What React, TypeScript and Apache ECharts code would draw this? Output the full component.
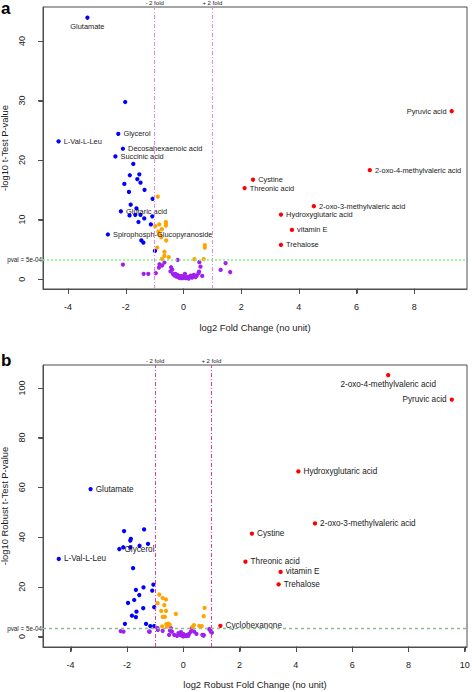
import React, { useEffect, useRef } from 'react';
import * as echarts from 'echarts';

const FONT = '"Liberation Sans", Arial, Helvetica, sans-serif';

// ---------- Panel a data: [log2 fold change, -log10 p, label] ----------
const aBlue: [number, number, string?][] = [
  [-3.33, 43.9, 'Glutamate'], [-2.02, 29.75], [-2.26, 24.4, 'Glycerol'], [-4.33, 23.15, 'L-Val-L-Leu'],
  [-2.10, 21.9, 'Decosahexaenoic acid'], [-2.36, 20.6, 'Succinic acid'], [-1.74, 19.35], [-1.86, 17.45],
  [-1.53, 17.6], [-1.60, 16.8], [-1.49, 16.2], [-2.05, 16.0], [-1.35, 15.0], [-1.89, 14.65], [-1.07, 13.5],
  [-1.83, 12.5], [-1.63, 11.9], [-2.17, 11.4, 'Glutaric acid'], [-1.87, 10.7], [-1.67, 10.8], [-1.49, 10.8],
  [-1.08, 10.55], [-1.36, 10.2], [-1.56, 9.6], [-1.13, 9.2], [-2.62, 7.5, 'Spirophosph-Glucopyranoside'],
  [-1.46, 6.5], [-1.39, 6.15], [-0.99, 4.75],
];
const aOrange: [number, number][] = [
  [-0.89, 13.86], [-0.98, 8.9], [-0.84, 9.2], [-0.61, 9.6], [-0.61, 9.3], [-0.61, 9.0], [-0.75, 8.4],
  [-0.87, 8.0], [-0.82, 7.43], [-0.77, 7.05], [-0.60, 6.5], [-0.91, 5.3], [-0.66, 4.6], [-0.66, 3.9],
  [-0.74, 3.4], [-0.51, 3.7], [0.38, 3.35], [0.70, 3.35], [0.74, 5.3], [0.74, 5.7],
];
const aPurple: [number, number][] = [
  [-2.10, 2.45], [-1.38, 0.9], [-1.22, 0.9], [-0.96, 1.0], [-0.85, 1.95], [-0.83, 2.5], [-0.74, 2.3],
  [-0.66, 2.8], [-0.43, 2.0], [-0.39, 1.6], [-0.20, 3.24], [0.55, 2.85], [1.29, 1.56], [1.46, 2.7],
  [1.62, 1.2], [-0.36, 0.84], [-0.31, 0.6], [-0.24, 0.44], [-0.16, 0.27], [-0.10, 0.17], [-0.03, 0.17],
  [0.01, 0.27], [0.08, 0.17], [0.13, 0.39], [0.21, 0.39], [0.30, 0.27], [0.36, 0.72], [0.46, 0.6],
  [0.54, 1.28], [0.59, 2.1], [0.65, 0.55], [-0.45, 1.3], [-0.20, 0.7], [-0.05, 0.5], [0.05, 0.9],
  [0.18, 0.1], [0.25, 0.6], [0.42, 0.35], [-0.28, 0.9], [0.52, 1.0], [-0.12, 0.5],
];
const aRed: [number, number, string?][] = [
  [9.30, 28.2, 'Pyruvic acid'], [6.46, 18.3, '2-oxo-4-methylvaleric acid'], [2.41, 16.7, 'Cystine'],
  [2.12, 15.3, 'Threonic acid'], [4.52, 12.25, '2-oxo-3-methylvaleric acid'],
  [3.38, 10.85, 'Hydroxyglutaric acid'], [3.76, 8.27, 'vitamin E'], [3.38, 5.75, 'Trehalose'],
];
const aLeftLabels = ['Pyruvic acid'];
const aBelowLabels = ['Glutamate'];

// ---------- Panel b data ----------
const bBlue: [number, number, string?][] = [
  [-3.29, 59.3, 'Glutamate'], [-4.42, 31.2, 'L-Val-L-Leu'], [-2.27, 35.2, 'Glycerol'], [-2.10, 42.4],
  [-1.39, 43.1], [-1.88, 38.6], [-1.86, 39.3], [-1.55, 36.5], [-1.25, 37.3], [-2.13, 35.9], [-1.88, 35.9],
  [-1.78, 27.5], [-1.06, 20.9], [-1.41, 19.8], [-1.10, 18.5], [-1.68, 18.8], [-1.56, 16.7], [-1.74, 14.7],
  [-1.96, 13.5], [-1.42, 11.4], [-1.03, 11.8], [-1.66, 10.0], [-1.82, 8.4], [-1.68, 7.8], [-2.07, 5.1],
  [-1.32, 5.1], [-1.17, 4.2], [-1.03, 4.2],
];
const bOrange: [number, number][] = [
  [-0.85, 16.9], [-0.73, 15.5], [-0.61, 14.9], [-0.91, 13.4], [-0.67, 12.6], [-0.78, 10.3], [-0.61, 10.3],
  [-0.73, 7.9], [-0.65, 7.9], [-0.26, 9.1], [-0.60, 5.0], [-0.53, 5.2], [-0.48, 4.8], [-0.58, 4.0],
  [-0.75, 4.1], [0.76, 11.5], [0.73, 8.2], [0.38, 4.6], [0.33, 3.9], [0.57, 4.3], [0.66, 4.2],
];
const bPurple: [number, number][] = [
  [-2.22, 2.2], [-2.12, 2.0], [-1.19, 2.0], [-0.90, 2.7], [0.73, 0.6], [0.96, 2.7], [1.02, 1.6], [0.72, 0.4],
  [-0.44, 3.4], [-0.47, 2.4], [-0.40, 2.0], [-0.50, 0.7], [-0.32, 0.7], [-0.17, 1.4], [-0.12, 0.7],
  [-0.05, 0.4], [0.01, 1.0], [0.07, 0.4], [0.14, 0.7], [0.21, 1.1], [0.27, 2.0], [0.31, 3.4], [0.39, 2.0],
  [0.47, 1.1], [0.68, 0.7], [0.92, 3.0], [0.98, 2.0], [-1.21, 2.0], [-0.91, 3.4], [-0.73, 2.3],
  [-0.22, 0.3], [0.0, 0.1], [0.1, 0.2], [-0.08, 1.8], [0.18, 0.3],
];
const bRed: [number, number, string?][] = [
  [7.28, 105.1, '2-oxo-4-methylvaleric acid'], [9.54, 95.3, 'Pyruvic acid'],
  [4.09, 66.4, 'Hydroxyglutaric acid'], [4.68, 45.5, '2-oxo-3-methylvaleric acid'], [2.44, 41.4, 'Cystine'],
  [2.21, 30.1, 'Threonic acid'], [3.46, 26.0, 'vitamin E'], [3.39, 21.0, 'Trehalose'],
  [1.32, 4.3, 'Cyclohexanone'],
];
const bLeftLabels = ['Pyruvic acid'];
const bBelowLabels = ['2-oxo-4-methylvaleric acid'];

// ---------- axes ----------
const aXTicks = [-4, -2, 0, 2, 4, 6, 8];
const aYTicks = [0, 10, 20, 30, 40];
const bXTicks = [-4, -2, 0, 2, 4, 6, 8, 10];
const bYTicks = [0, 20, 40, 60, 80, 100];
const aXRange = [-4.87, 9.83];
const aYRange = [-1.65, 45.7];
const bXRange = [-4.98, 10.08];
const bYRange = [-4.2, 109.2];
const foldCut = 1; // log2(2)
const pvalCut = 5e-4;

const BLUE = '#0000ff';
const ORANGE = '#ffa500';
const PURPLE = '#a020f0';
const RED = '#ff0000';
const AXIS = '#4d4d4d';

function pointSeries(
  data: [number, number, string?][],
  color: string,
  idx: number,
  fs: number,
  left: string[],
  below: string[],
  extra: any = {}
) {
  return {
    type: 'scatter',
    xAxisIndex: idx,
    yAxisIndex: idx,
    symbolSize: 4.3,
    itemStyle: { color, opacity: 1 },
    data: data.map((d) => {
      const name = d[2];
      const item: any = { value: [d[0], d[1]] };
      if (name) {
        item.label = {
          show: true,
          formatter: name,
          position: left.includes(name) ? 'left' : below.includes(name) ? 'bottom' : 'right',
          distance: 3,
          fontSize: fs,
          color: '#1a1a1a',
          fontFamily: FONT,
        };
      }
      return item;
    }),
    ...extra,
  };
}

function lines(vColor: string, hColor: string, hType: any, hWidth: number) {
  const lbl = { fontSize: 6, color: '#222', fontFamily: FONT, distance: 1 };
  return {
    silent: true,
    symbol: ['none', 'none'],
    animation: false,
    data: [
      { xAxis: -foldCut, lineStyle: { color: vColor, type: [4, 2, 1, 2], width: 1, opacity: 1 }, label: { ...lbl, position: 'end', formatter: '- 2 fold' } },
      { xAxis: foldCut, lineStyle: { color: vColor, type: [4, 2, 1, 2], width: 1, opacity: 1 }, label: { ...lbl, position: 'end', formatter: '+ 2 fold' } },
      { yAxis: -Math.log10(pvalCut), lineStyle: { color: hColor, type: hType, width: hWidth, opacity: 1 }, label: { ...lbl, fontSize: 6.3, position: 'start', formatter: 'pval = 5e-04' } },
    ],
  };
}

function makeX(idx: number, range: number[], ticks: number[], name: string, gap: number) {
  return {
    type: 'value', gridIndex: idx, min: range[0], max: range[1],
    name, nameLocation: 'middle', nameGap: gap,
    nameTextStyle: { fontSize: 9.4, color: '#1a1a1a', fontFamily: FONT },
    axisLine: { show: true, onZero: false, lineStyle: { color: AXIS } },
    axisTick: { show: true, length: 5, customValues: ticks, lineStyle: { color: AXIS, width: 1 } },
    axisLabel: { customValues: ticks, fontSize: 9, color: '#1a1a1a', fontFamily: FONT, margin: 13 },
    splitLine: { show: false },
  };
}

function makeY(idx: number, range: number[], ticks: number[], name: string, gap: number) {
  return {
    type: 'value', gridIndex: idx, min: range[0], max: range[1],
    name, nameLocation: 'middle', nameGap: gap, nameRotate: 90,
    nameTextStyle: { fontSize: 9.4, color: '#1a1a1a', fontFamily: FONT },
    axisLine: { show: true, onZero: false, lineStyle: { color: AXIS } },
    axisTick: { show: true, length: 5, customValues: ticks, lineStyle: { color: AXIS, width: 1 } },
    axisLabel: { customValues: ticks, fontSize: 9, color: '#1a1a1a', fontFamily: FONT, margin: 17, rotate: 90 },
    splitLine: { show: false },
  };
}

export default function App() {
  const ref = useRef<HTMLDivElement>(null);
  useEffect(() => {
    if (!ref.current) return;
    const chart = echarts.init(ref.current, null, { renderer: 'svg' });
    const gridStyle = { show: true, borderColor: AXIS, borderWidth: 1, containLabel: false, outerBoundsMode: 'none' };
    chart.setOption({
      animation: false,
      textStyle: { fontFamily: FONT },
      grid: [
        { left: 43, top: 7, width: 424, height: 282, ...gridStyle },
        { left: 43, top: 365, width: 424, height: 282, ...gridStyle },
      ],
      xAxis: [
        makeX(0, aXRange, aXTicks, 'log2 Fold Change (no unit)', 34),
        makeX(1, bXRange, bXTicks, 'log2 Robust Fold Change (no unit)', 33),
      ],
      yAxis: [
        makeY(0, aYRange, aYTicks, '-log10 t-Test P-value', 31),
        makeY(1, bYRange, bYTicks, '-log10 Robust t-Test P-value', 31),
      ],
      series: [
        pointSeries(aPurple as any, PURPLE, 0, 7.4, [], [], { markLine: lines('#ee82ee', '#7cfc7c', [2, 2], 1.5) }),
        pointSeries(aOrange as any, ORANGE, 0, 7.4, [], []),
        pointSeries(aBlue, BLUE, 0, 7.4, aLeftLabels, aBelowLabels),
        pointSeries(aRed, RED, 0, 7.4, aLeftLabels, aBelowLabels),
        pointSeries(bPurple as any, PURPLE, 1, 8.2, [], [], { markLine: lines('#e0409a', '#8fbc8f', [3, 3], 1.3) }),
        pointSeries(bOrange as any, ORANGE, 1, 8.2, [], []),
        pointSeries(bBlue, BLUE, 1, 8.2, bLeftLabels, bBelowLabels),
        pointSeries(bRed, RED, 1, 8.2, bLeftLabels, bBelowLabels),
      ],
    });

    // tick marks on the box edges, placed through the axes' own scales
    const ticks: any[] = [];
    const addTicks = (gi: number, xr: number[], yr: number[], xt: number[], yt: number[]) => {
      const corner = chart.convertToPixel({ gridIndex: gi } as any, [xr[0], yr[0]]) as number[];
      if (!corner) return;
      const left = Math.round(corner[0]) + 0.5;
      const bottom = Math.round(corner[1]) - 0.5;
      xt.forEach((v) => {
        const p = chart.convertToPixel({ gridIndex: gi } as any, [v, yr[0]]) as number[];
        const x = Math.round(p[0]) + 0.5;
        ticks.push({ type: 'line', silent: true, shape: { x1: x, y1: bottom, x2: x, y2: bottom + 5 }, style: { stroke: AXIS, lineWidth: 1 } });
      });
      yt.forEach((v) => {
        const p = chart.convertToPixel({ gridIndex: gi } as any, [xr[0], v]) as number[];
        const y = Math.round(p[1]) + 0.5;
        ticks.push({ type: 'line', silent: true, shape: { x1: left - 5, y1: y, x2: left, y2: y }, style: { stroke: AXIS, lineWidth: 1 } });
      });
    };
    addTicks(0, aXRange, aYRange, aXTicks, aYTicks);
    addTicks(1, bXRange, bYRange, bXTicks, bYTicks);

    chart.setOption({
      graphic: [
        { type: 'text', left: 1, top: 0, style: { text: 'a', fontSize: 17, fontWeight: 'bold', fill: '#000', fontFamily: FONT } },
        { type: 'text', left: 1, top: 352, style: { text: 'b', fontSize: 17, fontWeight: 'bold', fill: '#000', fontFamily: FONT } },
        ...ticks,
      ],
    });
    return () => chart.dispose();
  }, []);
  return <div ref={ref} style={{ position: 'absolute', left: 0, top: 0, width: 472, height: 692 }} />;
}
